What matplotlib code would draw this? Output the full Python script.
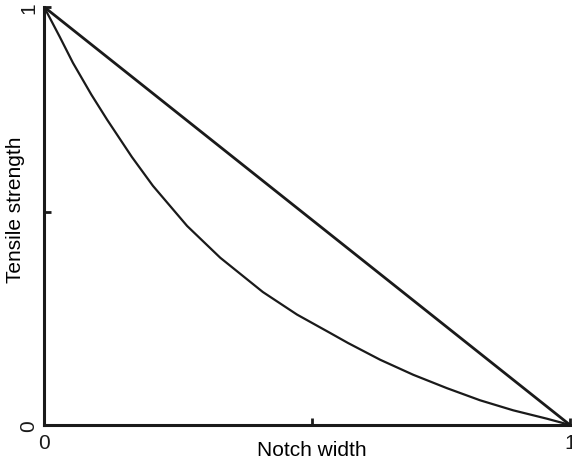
import numpy as np
import matplotlib.pyplot as plt

plt.rcParams['font.family'] = ['Liberation Sans', 'DejaVu Sans']

# straight line (linear reduction)
linear_x = [0.0, 1.0]
linear_y = [1.0, 0.0]

# curved line
curve_x = [0.0, 0.030, 0.055, 0.090, 0.120, 0.167, 0.207, 0.272, 0.335, 0.416,
           0.481, 0.544, 0.578, 0.639, 0.702, 0.766, 0.829, 0.892, 0.956, 1.0]
curve_y = [1.0, 0.928, 0.866, 0.790, 0.730, 0.641, 0.572, 0.476, 0.400, 0.318,
           0.264, 0.220, 0.196, 0.156, 0.120, 0.088, 0.059, 0.035, 0.015, 0.0]

x_ticks = [0.0, 0.51, 1.0]
x_tick_labels = ["0", "", "1"]
y_ticks = [0.0, 0.51, 1.0]
y_tick_labels = ["0", "", "1"]

FONT_SIZE = 15
INK = "#1a1a1a"

fig = plt.figure(figsize=(5.72, 4.64), dpi=100)
ax = fig.add_axes([0.077, 0.082, 0.9195, 0.901])

ax.plot(linear_x, linear_y, color=INK, linewidth=2.0, solid_capstyle="butt")
ax.plot(curve_x, curve_y, color=INK, linewidth=1.6, solid_joinstyle="round")

ax.set_xlim(0, 1)
ax.set_ylim(0, 1)

for side in ["top", "right"]:
    ax.spines[side].set_visible(False)
for side in ["left", "bottom"]:
    ax.spines[side].set_linewidth(2.2)
    ax.spines[side].set_color(INK)

ax.set_xticks(x_ticks)
ax.set_xticklabels(x_tick_labels, fontsize=FONT_SIZE)
ax.set_yticks(y_ticks)
ax.set_yticklabels(y_tick_labels, fontsize=FONT_SIZE, rotation=90, va="center")
ax.tick_params(direction="in", length=5, width=2, colors=INK)
ax.tick_params(axis="x", pad=6)
ax.tick_params(axis="y", pad=4)

ax.set_xlabel("Notch width", fontsize=FONT_SIZE, va="center")
ax.xaxis.set_label_coords(0.51, -0.058)
ax.set_ylabel("Tensile strength", fontsize=FONT_SIZE, va="center")
ax.yaxis.set_label_coords(-0.055, 0.517)

fig.savefig("out.png", dpi=100)
plt.close(fig)
